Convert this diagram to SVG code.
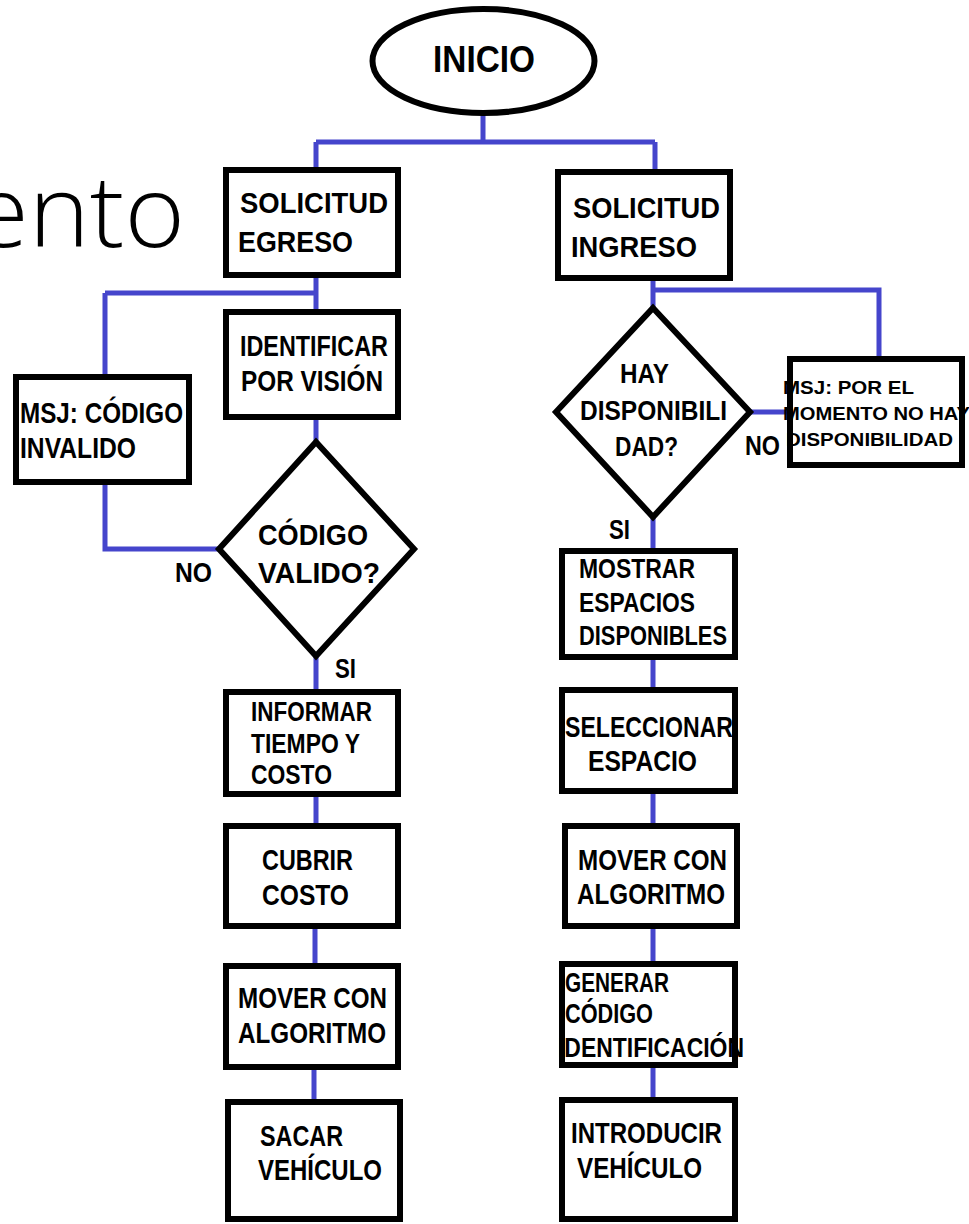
<svg xmlns="http://www.w3.org/2000/svg" width="969" height="1224" viewBox="0 0 969 1224">
<style>
.c{stroke:#4545CC;stroke-width:5;fill:none;stroke-linecap:butt}
.b{fill:#fff;stroke:#000;stroke-width:6}
.s{fill:none;stroke:#000;stroke-width:6}
.w{fill:#fff}
.t{font-family:"Liberation Sans",Arial,sans-serif;font-weight:bold;fill:#000}
.f30{font-size:30px}
.f27{font-size:27px}
.f19{font-size:19px}
.title{font-family:"Open Sans","Noto Sans",sans-serif;font-weight:300;font-size:100px;fill:#000}
</style>
<rect x="0" y="0" width="969" height="1224" fill="#fff"/>
<text class="title" x="-28" y="247" textLength="213" lengthAdjust="spacingAndGlyphs">ento</text>
<g id="connectors">
<path class="c" d="M483 113V142M316 142H655M316 142V170M655 142V172"/>
<path class="c" d="M316 275V312M105 293H316M105 293V377"/>
<path class="c" d="M316 417V442"/>
<path class="c" d="M105 482V549H219"/>
<path class="c" d="M316 656V692M316 794V826M315 926V966M314 1067V1102"/>
<path class="c" d="M653 278V308M653 290H879V359"/>
<path class="c" d="M750 412H790"/>
<path class="c" d="M653 517V551M653 657V690M653 791V826M653 926V964M653 1065V1100"/>
</g>
<g id="inicio">
<ellipse class="b" cx="483.5" cy="61" rx="111" ry="52"/>
<text class="t" x="433" y="72" font-size="36" textLength="102" lengthAdjust="spacingAndGlyphs">INICIO</text>
</g>
<g id="solicitud-egreso">
<rect class="b" x="226" y="170" width="172" height="105"/>
<text class="t f30" x="240" y="213" textLength="148" lengthAdjust="spacingAndGlyphs">SOLICITUD</text>
<text class="t f30" x="238" y="252" textLength="115" lengthAdjust="spacingAndGlyphs">EGRESO</text>
</g>
<g id="solicitud-ingreso">
<rect class="b" x="558" y="172" width="172" height="106"/>
<text class="t f30" x="573" y="218" textLength="147" lengthAdjust="spacingAndGlyphs">SOLICITUD</text>
<text class="t f30" x="571" y="257" textLength="126" lengthAdjust="spacingAndGlyphs">INGRESO</text>
</g>
<g id="identificar">
<rect class="b" x="226" y="312" width="172" height="105"/>
<text class="t f30" x="240" y="356" textLength="148" lengthAdjust="spacingAndGlyphs">IDENTIFICAR</text>
<text class="t f30" x="241" y="391" textLength="142" lengthAdjust="spacingAndGlyphs">POR VISIÓN</text>
</g>
<g id="msj-codigo">
<rect class="b" x="16" y="377" width="173" height="105"/>
<text class="t f30" x="20" y="423" textLength="163" lengthAdjust="spacingAndGlyphs">MSJ: CÓDIGO</text>
<text class="t f30" x="20" y="458" textLength="116" lengthAdjust="spacingAndGlyphs">INVALIDO</text>
</g>
<g id="codigo-valido">
<polygon class="b" points="316,442 414,549 316,656 219,549"/>
<text class="t f30" x="258" y="545" textLength="110" lengthAdjust="spacingAndGlyphs">CÓDIGO</text>
<text class="t f30" x="258" y="583" textLength="122" lengthAdjust="spacingAndGlyphs">VALIDO?</text>
</g>
<text class="t f27" x="175" y="582" textLength="37" lengthAdjust="spacingAndGlyphs">NO</text>
<text class="t f27" x="335" y="678" textLength="21" lengthAdjust="spacingAndGlyphs">SI</text>
<g id="hay-disponibilidad">
<polygon class="b" points="653,308 750,412 653,517 556,412"/>
<text class="t f27" x="620" y="383" textLength="49" lengthAdjust="spacingAndGlyphs">HAY</text>
<text class="t f27" x="580" y="420" textLength="147" lengthAdjust="spacingAndGlyphs">DISPONIBILI</text>
<text class="t f27" x="615" y="456" textLength="63" lengthAdjust="spacingAndGlyphs">DAD?</text>
</g>
<text class="t f27" x="745" y="455" textLength="35" lengthAdjust="spacingAndGlyphs">NO</text>
<text class="t f27" x="609" y="539" textLength="21" lengthAdjust="spacingAndGlyphs">SI</text>
<g id="msj-no-hay">
<rect class="w" x="790" y="359" width="172" height="106"/>
<text class="t f19" x="783" y="394" textLength="131" lengthAdjust="spacingAndGlyphs">MSJ: POR EL</text>
<text class="t f19" x="783" y="420" textLength="187" lengthAdjust="spacingAndGlyphs">MOMENTO NO HAY</text>
<text class="t f19" x="786" y="446" textLength="167" lengthAdjust="spacingAndGlyphs">DISPONIBILIDAD</text>
<rect class="s" x="790" y="359" width="172" height="106"/>
</g>
<g id="informar">
<rect class="b" x="226" y="692" width="172" height="102"/>
<text class="t f27" x="251" y="721" textLength="121" lengthAdjust="spacingAndGlyphs">INFORMAR</text>
<text class="t f27" x="251" y="753" textLength="109" lengthAdjust="spacingAndGlyphs">TIEMPO Y</text>
<text class="t f27" x="251" y="784" textLength="81" lengthAdjust="spacingAndGlyphs">COSTO</text>
</g>
<g id="cubrir">
<rect class="b" x="226" y="826" width="172" height="100"/>
<text class="t f30" x="262" y="870" textLength="91" lengthAdjust="spacingAndGlyphs">CUBRIR</text>
<text class="t f30" x="262" y="905" textLength="87" lengthAdjust="spacingAndGlyphs">COSTO</text>
</g>
<g id="mover-izq">
<rect class="b" x="226" y="966" width="172" height="101"/>
<text class="t f30" x="238" y="1008" textLength="149" lengthAdjust="spacingAndGlyphs">MOVER CON</text>
<text class="t f30" x="238" y="1043" textLength="148" lengthAdjust="spacingAndGlyphs">ALGORITMO</text>
</g>
<g id="sacar">
<rect class="b" x="228" y="1102" width="172" height="117"/>
<text class="t f30" x="260" y="1146" textLength="83" lengthAdjust="spacingAndGlyphs">SACAR</text>
<text class="t f30" x="258" y="1180" textLength="124" lengthAdjust="spacingAndGlyphs">VEHÍCULO</text>
</g>
<g id="mostrar">
<rect class="b" x="562" y="551" width="173" height="106"/>
<text class="t f27" x="579" y="578" textLength="116" lengthAdjust="spacingAndGlyphs">MOSTRAR</text>
<text class="t f27" x="579" y="612" textLength="116" lengthAdjust="spacingAndGlyphs">ESPACIOS</text>
<text class="t f27" x="579" y="645" textLength="148" lengthAdjust="spacingAndGlyphs">DISPONIBLES</text>
</g>
<g id="seleccionar">
<rect class="b" x="562" y="690" width="173" height="101"/>
<text class="t f30" x="565" y="737" textLength="168" lengthAdjust="spacingAndGlyphs">SELECCIONAR</text>
<text class="t f30" x="588" y="771" textLength="109" lengthAdjust="spacingAndGlyphs">ESPACIO</text>
</g>
<g id="mover-der">
<rect class="b" x="565" y="826" width="172" height="100"/>
<text class="t f30" x="578" y="870" textLength="149" lengthAdjust="spacingAndGlyphs">MOVER CON</text>
<text class="t f30" x="577" y="904" textLength="148" lengthAdjust="spacingAndGlyphs">ALGORITMO</text>
</g>
<g id="generar">
<rect class="b" x="562" y="964" width="173" height="101"/>
<text class="t f27" x="565" y="992" textLength="104" lengthAdjust="spacingAndGlyphs">GENERAR</text>
<text class="t f27" x="565" y="1023" textLength="88" lengthAdjust="spacingAndGlyphs">CÓDIGO</text>
<text class="t f27" x="558" y="1057" textLength="186" lengthAdjust="spacingAndGlyphs">IDENTIFICACIÓN</text>
</g>
<g id="introducir">
<rect class="b" x="562" y="1100" width="173" height="119"/>
<text class="t f30" x="571" y="1143" textLength="151" lengthAdjust="spacingAndGlyphs">INTRODUCIR</text>
<text class="t f30" x="577" y="1178" textLength="125" lengthAdjust="spacingAndGlyphs">VEHÍCULO</text>
</g>
</svg>
